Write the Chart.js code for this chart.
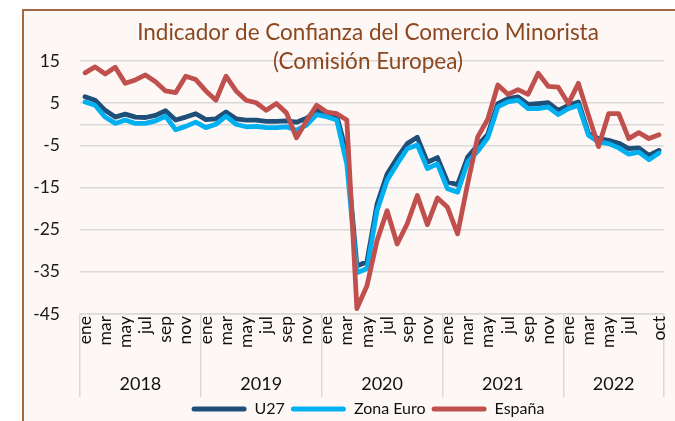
<!DOCTYPE html>
<html><head><meta charset="utf-8">
<script src="https://cdn.jsdelivr.net/npm/chart.js@4.4.1/dist/chart.umd.min.js"></script>
<style>
html,body{margin:0;padding:0;background:#fff;overflow:hidden;width:675px;height:421px;}
#frame{position:absolute;left:22px;top:9px;width:700px;height:450px;border-left:2px solid #A5673F;border-top:2px solid #A5673F;background:#FDF8F6;}
#wrap{position:absolute;left:0;top:0;width:675px;height:427px;}
</style></head><body>
<div id="frame"></div>
<div id="wrap"><canvas id="c" width="675" height="427"></canvas></div>
<script>
const categories = [
  'ene','feb','mar','abr','may','jun','jul','ago','sep','oct','nov','dic',
  'ene','feb','mar','abr','may','jun','jul','ago','sep','oct','nov','dic',
  'ene','feb','mar','abr','may','jun','jul','ago','sep','oct','nov','dic',
  'ene','feb','mar','abr','may','jun','jul','ago','sep','oct','nov','dic',
  'ene','feb','mar','abr','may','jun','jul','ago','sep','oct'
];
const years = ['2018','2019','2020','2021','2022'];
const monthsPerYear = [12,12,12,12,10];
const yTicks = [15, 5, 0, -5, -15, -25, -35, -45];

const u27 = [6.5,5.7,3.3,1.7,2.4,1.7,1.6,2.1,3.2,1.0,1.7,2.5,
  1.1,1.3,2.9,1.3,1.0,1.0,0.7,0.7,0.8,0.5,1.4,3.3,
  2.8,2.0,-7.0,-33.6,-32.6,-19.0,-11.8,-8.0,-4.6,-3.1,-9.0,-7.9,
  -13.7,-14.3,-7.8,-5.0,-2.4,4.9,6.1,6.5,4.7,4.9,5.1,3.3,
  4.5,5.3,-2.2,-3.4,-3.8,-4.5,-5.8,-5.6,-7.4,-6.2];
const zonaEuro = [5.3,4.5,1.7,0.2,1.0,0.2,0.2,0.8,1.9,-1.3,-0.5,0.5,
  -0.8,0.0,1.9,0.0,-0.6,-0.5,-0.8,-0.8,-0.6,-1.4,-0.2,2.3,
  1.8,1.0,-9.5,-35.2,-34.2,-20.5,-13.3,-9.4,-5.8,-4.9,-10.5,-9.4,
  -15.3,-16.1,-9.0,-6.4,-3.2,4.1,5.3,5.7,3.7,3.7,4.1,2.3,
  3.7,4.5,-2.6,-4.2,-4.6,-5.6,-7.1,-6.6,-8.4,-6.8];
const espana = [12.2,13.6,11.9,13.5,9.7,10.5,11.7,10.1,7.9,7.5,11.4,10.6,
  7.9,5.7,11.4,7.9,5.7,5.1,3.3,4.9,2.7,-3.2,0.8,4.5,
  2.9,2.5,1.0,-43.7,-38.3,-27.6,-20.5,-28.4,-23.6,-16.9,-23.8,-17.5,
  -19.7,-26.0,-14.1,-3.0,1.2,9.3,7.1,8.2,7.1,12.1,9.0,8.8,
  4.9,9.7,2.1,-5.3,2.5,2.5,-3.4,-2.0,-3.4,-2.5];

// year boundaries / centres (in category index units)
const yearStarts = [];
const yearCenters = [];
{ let s = 0; monthsPerYear.forEach(n => { yearStarts.push(s); yearCenters.push(s + (n - 1) / 2); s += n; }); }

Chart.defaults.font.family = 'Lato';
const GRID = '#D9D9D9';
const Y_FONT = 17.5;
// widest y tick label (needed to right-align mirrored labels)
const mctx = document.createElement('canvas').getContext('2d');
mctx.font = 'normal ' + Y_FONT + 'px Lato';
const yWidest = Math.max(...yTicks.map(v => mctx.measureText(v === 0 ? '' : String(v)).width));

function ds(label, data, color, order) {
  return { label, data, borderColor: color, backgroundColor: color, borderWidth: 4.8,
    pointRadius: 0, tension: 0, borderCapStyle: 'round', borderJoinStyle: 'round', order };
}

new Chart(document.getElementById('c'), {
  type: 'line',
  data: {
    labels: categories,
    datasets: [
      ds('U27', u27, '#1F4E79', 3),
      ds('Zona Euro', zonaEuro, '#00B0F0', 2),
      ds('España', espana, '#C0504D', 1)
    ]
  },
  options: {
    responsive: false,
    animation: false,
    devicePixelRatio: 1,
    layout: { padding: { left: 72, right: 11, top: 0, bottom: 0 } },
    plugins: {
      tooltip: { enabled: false },
      title: {
        display: true,
        text: ['Indicador de Confianza del Comercio Minorista', '(Comisión Europea)'],
        color: '#8C471F',
        font: { size: 22.5, weight: 'normal', lineHeight: 29 / 22.5 },
        padding: { top: 18.5, bottom: -15.5 }
      },
      legend: {
        position: 'bottom',
        labels: {
          boxWidth: 55, boxHeight: 5, padding: 6, color: '#111',
          font: { size: 16 },
          useBorderRadius: true, borderRadius: 2.5,
          sort: (a, b) => a.datasetIndex - b.datasetIndex,
          generateLabels: (chart) => Chart.defaults.plugins.legend.labels.generateLabels(chart).map(l => ({ ...l, lineWidth: 0 }))
        }
      }
    },
    scales: {
      y: {
        min: -45, max: 15,
        afterBuildTicks: (s) => { s.ticks = yTicks.map(v => ({ value: v })); },
        afterFit: (s) => { s.width = 8; },
        ticks: { mirror: true, crossAlign: 'far', padding: -20 - yWidest, color: '#1a1a1a', font: { size: Y_FONT },
          callback: (v) => v === 0 ? '' : v },
        grid: { color: GRID, lineWidth: 1.5, drawTicks: false },
        border: { display: false }
      },
      x: {
        type: 'category',
        offset: true,
        weight: 0,
        afterFit: (s) => { s.height = 48; },
        ticks: {
          autoSkip: false, minRotation: 90, maxRotation: 90, padding: -81,
          color: '#111', font: { size: 17.5 },
          callback: function (v, i) { return ((i % 2 === 0 && i < categories.length - 2) || i === categories.length - 1) ? categories[i] : ''; }
        },
        grid: {
          offset: true, drawOnChartArea: false, drawTicks: true, tickLength: 83, lineWidth: 1.5,
          color: (ctx) => (ctx.index === undefined || yearStarts.includes(ctx.index)) ? GRID : 'rgba(0,0,0,0)',
          tickColor: (ctx) => (ctx.index === undefined || yearStarts.includes(ctx.index)) ? GRID : 'rgba(0,0,0,0)'
        },
        border: { display: true, color: GRID, width: 1.5 }
      },
      x2: {
        type: 'linear',
        position: 'bottom',
        weight: 1,
        min: -0.5, max: categories.length - 0.5,
        offset: false,
        afterBuildTicks: (s) => { s.ticks = yearCenters.map(v => ({ value: v })); },
        afterFit: (s) => { s.height = 33; },
        ticks: { padding: 3, color: '#111', font: { size: 18 }, autoSkip: false, maxRotation: 0,
          callback: (v, i) => years[i] },
        grid: { display: false },
        border: { display: false }
      }
    }
  }
});
</script>
</body></html>
